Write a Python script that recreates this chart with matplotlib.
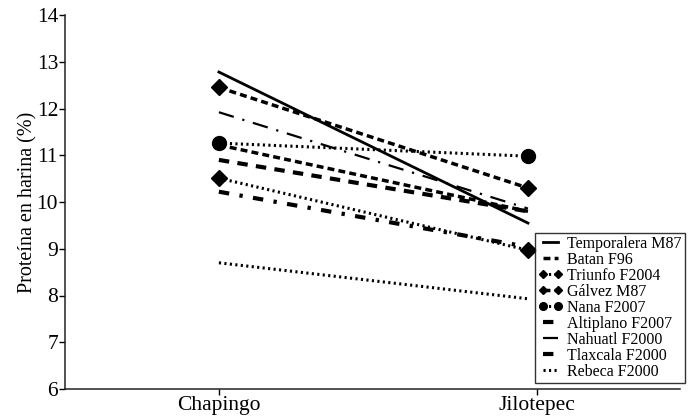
import matplotlib
matplotlib.use("Agg")
import matplotlib.pyplot as plt

plt.rcParams['font.family'] = ['Liberation Serif', 'DejaVu Serif']

sites = ["Chapingo", "Jilotepec"]
site_pos = [0.0, 1.0]
tick_pos = [0.0, 1.03]

temporalera = [12.78, 9.55]
batan = [11.22, 9.80]
triunfo = [10.51, 8.97]
galvez = [12.45, 10.30]
nana = [11.26, 10.98]
altiplano = [10.22, 9.04]
nahuatl = [11.92, 9.86]
tlaxcala = [10.90, 9.80]
rebeca = [8.70, 7.93]

fig = plt.figure(figsize=(6.96, 4.16), dpi=100)
ax = fig.add_axes([65 / 696, 27 / 416, 615 / 696, 374 / 416])

k = dict(color='black')
ax.plot(site_pos, temporalera, '-', lw=2.0, label='Temporalera M87', **k)
ax.plot(site_pos, batan, lw=2.5, dashes=(2.0, 1.2), label='Batan F96', **k)
ax.plot(site_pos, triunfo, lw=2.2, dashes=(0.7, 1.1), marker='D', ms=8,
        label='Triunfo F2004', **k)
ax.plot(site_pos, galvez, lw=2.5, dashes=(2.0, 1.2), marker='D', ms=8,
        label='Gálvez M87', **k)
ax.plot(site_pos, nana, lw=2.2, dashes=(0.7, 1.1), marker='o', ms=10,
        label='Nana F2007', **k)
ax.plot(site_pos, altiplano, lw=3.0, dashes=(2.5, 2.5, 0.8, 2.5), label='Altiplano F2007', **k)
ax.plot(site_pos, nahuatl, lw=1.6, dashes=(7, 4, 1, 4), label='Nahuatl F2000', **k)
ax.plot(site_pos, tlaxcala, lw=3.0, dashes=(2.5, 2.0), label='Tlaxcala F2000', **k)
ax.plot(site_pos, rebeca, lw=2.2, dashes=(0.7, 1.1), label='Rebeca F2000', **k)

ax.set_xlim(-0.498, 1.492)
ax.set_ylim(6, 14)
ax.set_yticks(range(6, 15))
ax.set_xticks(tick_pos)
ax.set_xticklabels(sites)
ax.tick_params(axis='both', labelsize=15.5, direction='out', length=4, width=1, pad=1)
ax.set_ylabel('Proteína en harina (%)', fontsize=14.5, labelpad=-1)
for s in ['top', 'right']:
    ax.spines[s].set_visible(False)
for s in ['left', 'bottom']:
    ax.spines[s].set_linewidth(1.1)
    ax.spines[s].set_color('#222222')

leg = ax.legend(loc='lower right', bbox_to_anchor=(1.008, 0.016), fontsize=11.5,
                frameon=True, fancybox=False, edgecolor='black', handlelength=1.5,
                handletextpad=0.3, labelspacing=0.0, borderpad=0.2, numpoints=2,
                markerscale=0.55, borderaxespad=0)
leg.get_frame().set_linewidth(1.0)

fig.savefig('out.png', dpi=100)
